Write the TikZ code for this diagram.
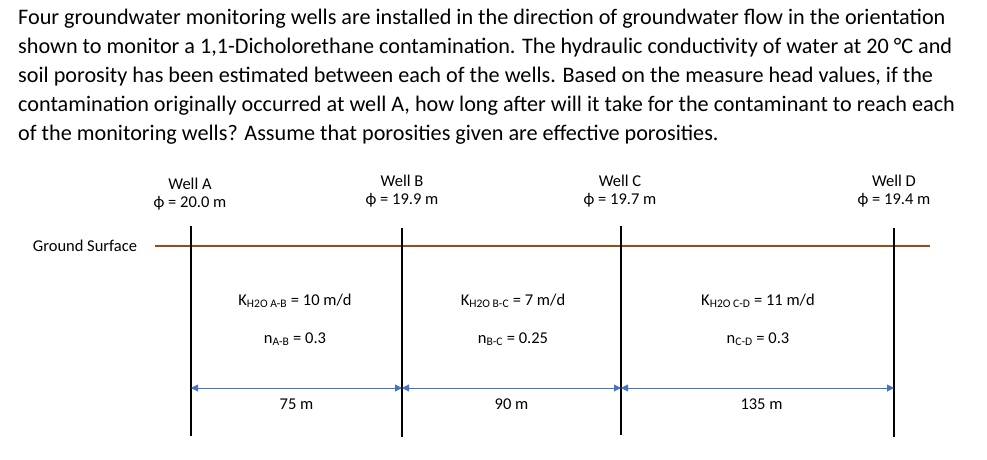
\documentclass[tikz,border=0pt]{standalone}
\usepackage{fontspec}
\setmainfont{Carlito}
\usetikzlibrary{arrows.meta}
\definecolor{groundbrown}{HTML}{9A4A1A}
\definecolor{dimblue}{HTML}{4472C4}
\tikzset{
  question/.style = {anchor=north west, align=left, inner sep=0pt, font=\fontsize{22.2}{29}\selectfont},
  lbl/.style      = {inner sep=0pt, font=\fontsize{16.5}{19}\selectfont},
  well/.style     = {draw, line width=1.8pt},
  ground/.style   = {draw=groundbrown, line width=1.8pt},
  dim/.style      = {draw=dimblue, line width=0.9pt, {Triangle[length=7pt,width=7pt]}-{Triangle[length=7pt,width=7pt]}},
  dist/.style     = {lbl, text=black, below=10pt}
}

\begin{document}
\begin{tikzpicture}[x=1pt, y=-1pt, node distance=19pt]
\useasboundingbox (0,0) rectangle (987,459);

% Problem statement
\draw node [question, name=text] at (18,9) {Four groundwater monitoring wells are installed in the direction of groundwater flow in the orientation\\
shown to monitor a 1,1-Dicholorethane contamination. The hydraulic conductivity of water at 20 °C and\\
soil porosity has been estimated between each of the wells. Based on the measure head values, if the\\
contamination originally occurred at well A, how long after will it take for the contaminant to reach each\\
of the monitoring wells? Assume that porosities given are effective porosities.};

% Well heads
\draw node [lbl, name=nameA] at (190,184) {Well A};
\draw node [lbl, name=headA, below of=nameA] {ϕ = 20.0 m};
\draw node [lbl, name=nameB] at (402,181) {Well B};
\draw node [lbl, name=headB, below of=nameB] {ϕ = 19.9 m};
\draw node [lbl, name=nameC] at (620,181) {Well C};
\draw node [lbl, name=headC, below of=nameC] {ϕ = 19.7 m};
\draw node [lbl, name=nameD] at (894,181) {Well D};
\draw node [lbl, name=headD, below of=nameD] {ϕ = 19.4 m};

% Ground surface
\draw node [lbl, name=gs] at (85,246) {Ground Surface};
\coordinate (gsL) at (155,246);
\coordinate (gsR) at (930,246);
\draw[ground] (gsL) -- (gsR);

% Wells
\coordinate (topA) at (191,226);
\coordinate (botA) at (191,436);
\coordinate (topB) at (402,228);
\coordinate (botB) at (402,437);
\coordinate (topC) at (621,226);
\coordinate (botC) at (621,435);
\coordinate (topD) at (894,228);
\coordinate (botD) at (894,437);
\draw[well] (topA) -- (botA);
\draw[well] (topB) -- (botB);
\draw[well] (topC) -- (botC);
\draw[well] (topD) -- (botD);

% Soil properties
\draw node [lbl, name=kAB] at (295,301) {K\textsubscript{H2O A-B} = 10 m/d};
\draw node [lbl, name=nAB, below of=kAB, node distance=38pt] {n\textsubscript{A-B} = 0.3};
\draw node [lbl, name=kBC] at (513,301) {K\textsubscript{H2O B-C} = 7 m/d};
\draw node [lbl, name=nBC, below of=kBC, node distance=38pt] {n\textsubscript{B-C} = 0.25};
\draw node [lbl, name=kCD] at (758,301) {K\textsubscript{H2O C-D} = 11 m/d};
\draw node [lbl, name=nCD, below of=kCD, node distance=38pt] {n\textsubscript{C-D} = 0.3};

% Distances
\coordinate (dA) at (191,388);
\coordinate (dB) at (402,388);
\coordinate (dC) at (621,388);
\coordinate (dD) at (894,388);
\draw[dim] (dA) -- node [dist] {75 m} (dB);
\draw[dim] (dB) -- node [dist] {90 m} (dC);
\draw[dim] (dC) -- node [dist, xshift=4pt] {135 m} (dD);

\end{tikzpicture}
\end{document}
